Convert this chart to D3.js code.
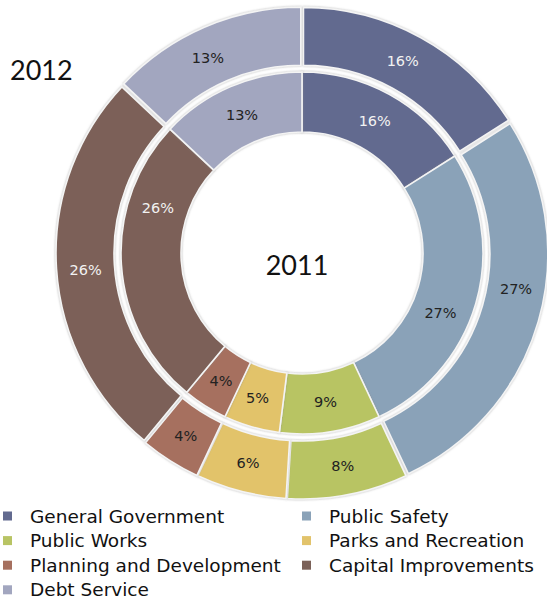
<!DOCTYPE html>
<html>
<head>
<meta charset="utf-8">
<script src="https://cdn.jsdelivr.net/npm/d3@7"></script>
<style>
    body { margin: 0; background: #fff; }
    svg { display: block; }
</style>
</head>
<body>
<div id="chart"></div>
<script>
// budget share by category, outer ring = 2012, inner ring = 2011
const categories = ["General Government", "Public Safety", "Public Works", "Parks and Recreation",
    "Planning and Development", "Capital Improvements", "Debt Service"];
const values2012 = [16, 27, 8, 6, 4, 26, 13];
const values2011 = [16, 27, 9, 5, 4, 26, 13];
const colors = ["#626a8f", "#8aa2b8", "#b8c464", "#e2c36b", "#a6705f", "#7b6158", "#a2a6bf"];
const lightText = ["General Government", "Capital Improvements"];

// where each label sits along its slice (0 = start angle, 1 = end angle)
const labelAlong2012 = [0.48, 0.43, 0.5, 0.5, 0.5, 0.49, 0.45];
const labelAlong2011 = [0.5, 0.575, 0.5, 0.55, 0.5, 0.725, 0.5];

const width = 547, height = 602;
const cx = 302, cy = 253;

const svg = d3.select("#chart").append("svg")
    .attr("width", width)
    .attr("height", height);

const defs = svg.append("defs");
const shadow = defs.append("filter").attr("id", "shadow")
    .attr("x", "-10%").attr("y", "-10%").attr("width", "120%").attr("height", "120%");
shadow.append("feDropShadow").attr("dx", 0).attr("dy", 0).attr("stdDeviation", 1)
    .attr("flood-color", "#888").attr("flood-opacity", 0.6);

const pie = d3.pie().sort(null).value(d => d);

const g = svg.append("g").attr("transform", "translate(" + cx + "," + cy + ")");

function ring(values, along, inner, outer, explode, cls) {
    let arc = d3.arc().innerRadius(inner).outerRadius(outer);
    let mid = (inner + outer) / 2;
    let slices = g.append("g").attr("class", cls)
        .selectAll("g")
        .data(pie(values))
        .join("g")
        .attr("transform", function (d) {
            let a = (d.startAngle + d.endAngle) / 2;
            return "translate(" + (Math.sin(a) * explode) + "," + (-Math.cos(a) * explode) + ")";
        });

    slices.append("path")
        .attr("d", arc)
        .attr("fill", (d, i) => colors[i])
        .attr("stroke", "#f4f4f4")
        .attr("stroke-width", 1.6)
        .attr("filter", "url(#shadow)");

    slices.append("text")
        .attr("transform", function (d, i) {
            let a = d.startAngle + (d.endAngle - d.startAngle) * along[i];
            return "translate(" + (Math.sin(a) * mid) + "," + (-Math.cos(a) * mid) + ")";
        })
        .attr("text-anchor", "middle")
        .attr("dy", "0.36em")
        .attr("font-family", "DejaVu Sans, Verdana, sans-serif")
        .attr("font-size", 14.5)
        .attr("fill", (d, i) => lightText.indexOf(categories[i]) >= 0 ? "#f2f2f2" : "#222")
        .text(d => d.data + "%");
}

ring(values2012, labelAlong2012, 185, 243, 3, "outer");
ring(values2011, labelAlong2011, 121, 181, 0, "inner");

svg.append("text")
    .attr("x", 297).attr("y", 275)
    .attr("text-anchor", "middle")
    .attr("font-family", "Lato, sans-serif")
    .attr("font-size", 27)
    .attr("fill", "#111")
    .text("2011");

svg.append("text")
    .attr("x", 10).attr("y", 80)
    .attr("font-family", "Lato, sans-serif")
    .attr("font-size", 27)
    .attr("fill", "#111")
    .text("2012");

// legend, two columns
const legend = svg.append("g").attr("class", "legend")
    .selectAll("g")
    .data(categories)
    .join("g")
    .attr("transform", (d, i) => "translate(" + (i % 2 === 0 ? 3 : 302) + "," + (516 + Math.floor(i / 2) * 24.6) + ")");

legend.append("rect")
    .attr("x", 0).attr("y", -4.5)
    .attr("width", 9).attr("height", 9)
    .attr("fill", (d, i) => colors[i]);

legend.append("text")
    .attr("x", 27)
    .attr("dy", "0.36em")
    .attr("font-family", "DejaVu Sans, Verdana, sans-serif")
    .attr("font-size", 18.5)
    .attr("fill", "#111")
    .text(d => d);
</script>
</body>
</html>
